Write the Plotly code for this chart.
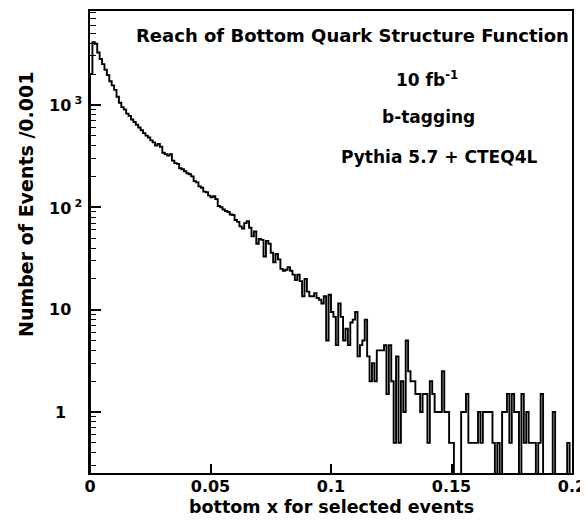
import numpy as np
import plotly.graph_objects as go

# ---- data: counts per bin of width 0.001 from 0 to 0.2 ----
bin_width = 0.001
x_min, x_max = 0.0, 0.2
counts_0_49 = [2000, 4100, 3950, 3250, 2800, 2500, 2200, 1950, 1700, 1550,
               1400, 1200, 1050, 950, 900, 820, 780, 720, 680, 640,
               600, 565, 530, 500, 480, 450, 430, 400, 415, 390,
               340, 330, 320, 330, 285, 270, 265, 240, 235, 225,
               215, 210, 200, 180, 175, 160, 155, 142, 140, 130]
counts_50_99 = [125, 128, 120, 103, 100, 95, 92, 90, 85, 84,
                75, 72, 65, 62, 70, 73, 63, 52, 58, 44,
                49, 48, 33, 47, 44, 36, 29, 35, 31, 25,
                24, 24.5, 26, 24, 22, 19.5, 22, 19, 13.5, 20,
                15, 13.5, 13.5, 14.5, 13, 12.5, 11.5, 13.5, 5, 14]
counts_100_149 = [9.5, 8.5, 4.5, 11.5, 8.5, 5, 6.5, 4.5, 7.5, 8,
                  9.5, 3.5, 4.5, 5, 8, 3.5, 2, 3, 2, 4,
                  4, 4, 4.5, 1.5, 4.5, 2, 0.5, 3.5, 0.5, 2,
                  1, 5, 2.5, 2, 2, 1.5, 1.5, 1, 1.5, 1.5,
                  0.5, 2, 1.5, 1, 1, 1, 2.5, 1, 1, 0.5]
counts_150_199 = [0.5, 0, 0, 0, 1, 1, 1.5, 0.5, 0.5, 0.5,
                  0.5, 1, 0.5, 1, 1, 1, 1, 0.5, 0, 0.5,
                  0, 1, 1, 1.5, 0.5, 1.5, 1, 1, 0, 1.5,
                  0.5, 1, 0.5, 0.5, 0.5, 0, 0.5, 1.5, 0, 0,
                  0, 0, 1, 0, 0, 0, 0, 0, 0.5, 0]
counts = np.array(counts_0_49 + counts_50_99 + counts_100_149 + counts_150_199, dtype=float)

y_tick_values = [1, 10, 100, 1000]
x_tick_values = [0, 0.05, 0.1, 0.15, 0.2]
x_tick_labels = ["0", "0.05", "0.1", "0.15", "0.2"]

title_text = "Reach of Bottom Quark Structure Function"
lumi_text = "10 fb<sup>-1</sup>"
tag_text = "b-tagging"
gen_text = "Pythia 5.7 + CTEQ4L"
x_title = "bottom x for selected events"
y_title = "Number of Events /0.001"

# ---- geometry ----
y_lo, y_hi = 0.254, 8250.0
floor = y_lo / 10.0
edges = np.linspace(x_min, x_max, len(counts) + 1)
ys = np.where(counts > 0, counts, floor)
step_x = np.concatenate([[x_min], edges, [x_max]])
step_y = np.concatenate([[floor], ys, [ys[-1]], [floor]])

FONT = "DejaVu Sans"

fig = go.Figure()
fig.add_trace(go.Scatter(x=step_x, y=step_y, mode="lines", line_shape="hv",
                         line=dict(color="black", width=1.9),
                         hoverinfo="skip", showlegend=False))

minor_vals = []
for d in range(-1, 4):
    for m in range(2, 10):
        v = m * 10.0 ** d
        if y_lo < v < y_hi:
            minor_vals.append(v)

fig.update_layout(
    width=580, height=516,
    margin=dict(l=81.5, r=16, t=1, b=51),
    paper_bgcolor="white", plot_bgcolor="white",
    showlegend=False,
    xaxis=dict(range=[x_min, x_max], showgrid=False, zeroline=False,
               showline=True, linecolor="black", linewidth=2, mirror=True,
               ticks="inside", ticklen=9, tickwidth=1.5, tickcolor="black",
               tickmode="array", tickvals=x_tick_values, ticktext=x_tick_labels,
               ticklabelstandoff=-2,
               tickfont=dict(family=FONT, size=16, color="black", weight="bold")),
    yaxis=dict(type="log", range=[np.log10(y_lo), np.log10(y_hi)],
               showgrid=False, zeroline=False,
               showline=True, linecolor="black", linewidth=2, mirror=True,
               ticks="inside", ticklen=11, tickwidth=1.5, tickcolor="black",
               tickmode="array", tickvals=y_tick_values, showticklabels=False,
               minor=dict(ticks="inside", ticklen=6, tickwidth=1, tickcolor="black",
                          tickmode="array", tickvals=minor_vals, showgrid=False)),
)

ann_font = dict(family=FONT, size=16, color="black", weight="bold")
# y tick labels
for v in y_tick_values:
    if v == 1:
        fig.add_annotation(x=-0.046, xref="paper", y=np.log10(v), yref="y",
                           text="1", showarrow=False, xanchor="right", yanchor="middle",
                           font=ann_font)
    elif v == 10:
        fig.add_annotation(x=-0.089, xref="paper", y=np.log10(v), yref="y",
                           text="10", showarrow=False, xanchor="left", yanchor="middle",
                           font=ann_font)
    else:
        fig.add_annotation(x=-0.089, xref="paper", y=np.log10(v), yref="y",
                           text="10\u2009<sup>%d</sup>" % int(round(np.log10(v))),
                           showarrow=False, xanchor="left", yanchor="middle",
                           font=ann_font)

def txt(size):
    return dict(family=FONT, size=size, color="black", weight="bold")

fig.add_annotation(x=0.545, y=0.947, xref="paper", yref="paper", text=title_text,
                   showarrow=False, xanchor="center", yanchor="middle", font=txt(18))
fig.add_annotation(x=0.70, y=0.852, xref="paper", yref="paper", text=lumi_text,
                   showarrow=False, xanchor="center", yanchor="middle", font=txt(17))
fig.add_annotation(x=0.703, y=0.770, xref="paper", yref="paper", text=tag_text,
                   showarrow=False, xanchor="center", yanchor="middle", font=txt(17))
fig.add_annotation(x=0.724, y=0.684, xref="paper", yref="paper", text=gen_text,
                   showarrow=False, xanchor="center", yanchor="middle", font=txt(17))
fig.add_annotation(x=0.5005, y=-0.073, xref="paper", yref="paper", text=x_title,
                   showarrow=False, xanchor="center", yanchor="middle", font=txt(17.5))
fig.add_annotation(x=-0.134, y=0.581, xref="paper", yref="paper", text=y_title,
                   showarrow=False, textangle=-90, xanchor="center", yanchor="middle",
                   font=txt(19))

fig.write_html("out.html")
